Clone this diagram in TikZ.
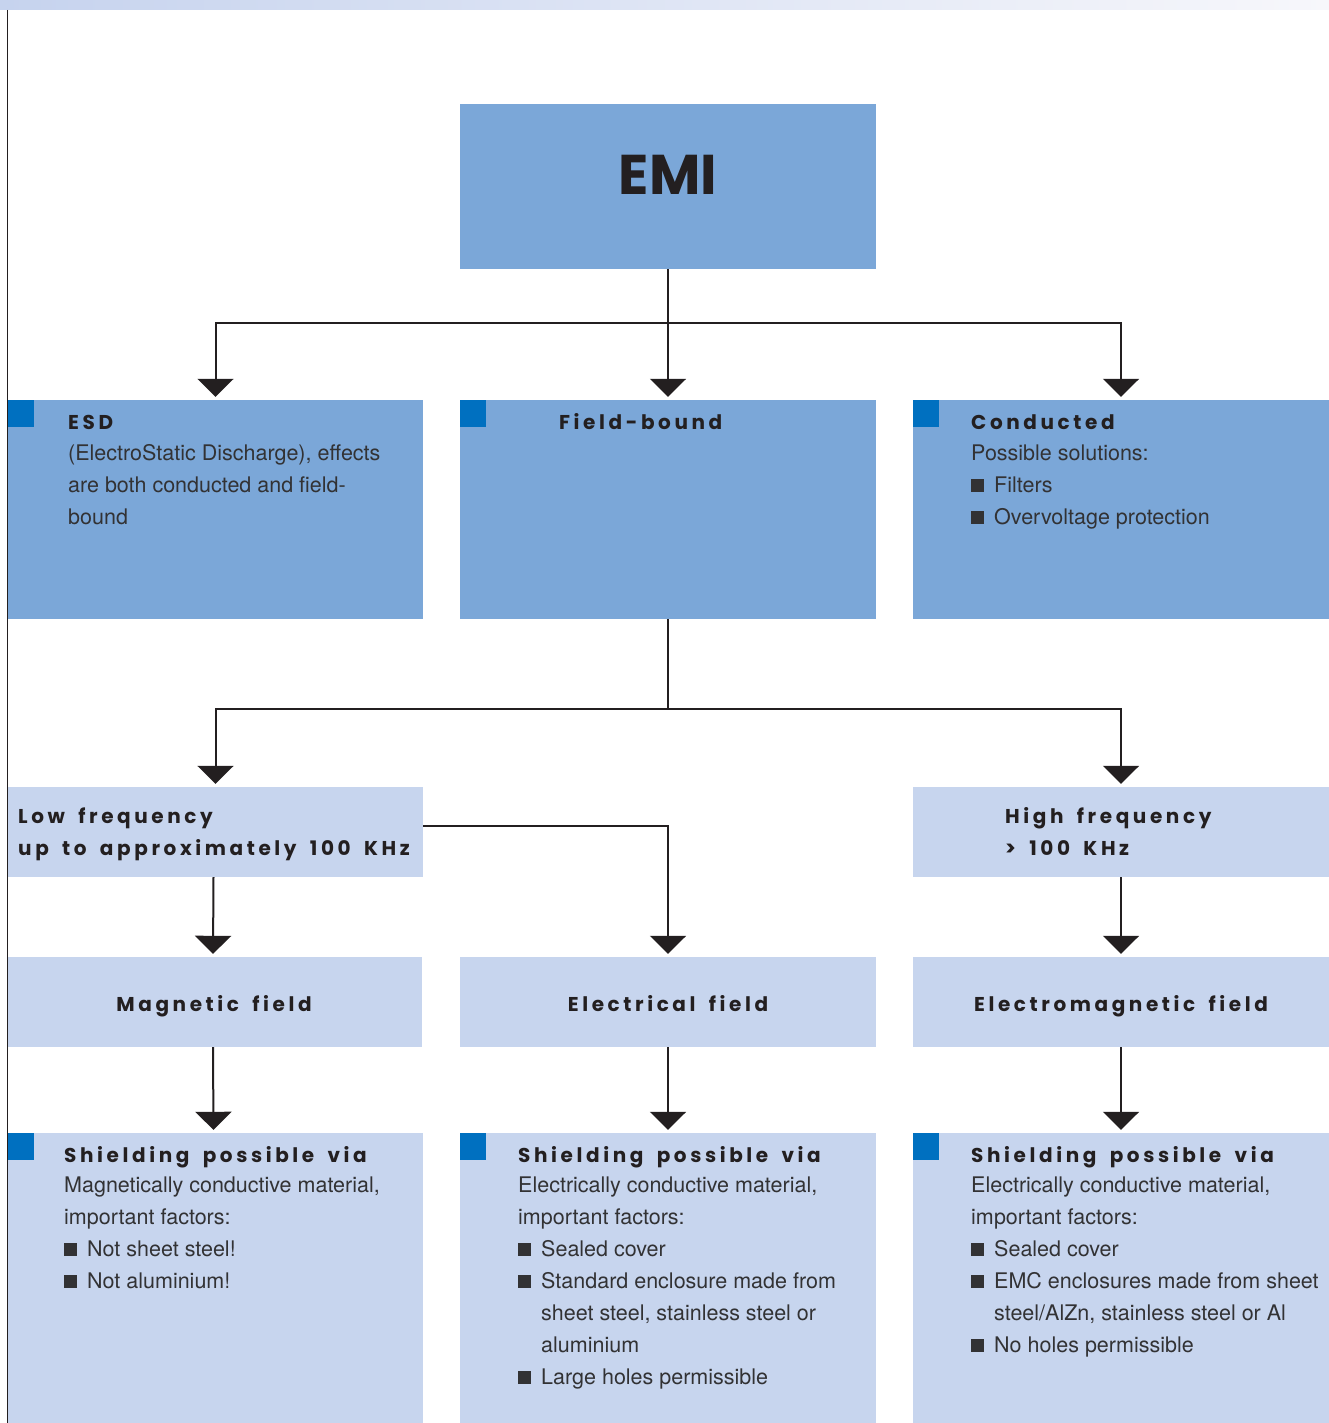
\documentclass[tikz,border=0pt]{standalone}
\usepackage{fontspec}
\usetikzlibrary{arrows.meta,calc}
\setmainfont{TeX Gyre Heros}
\newfontfamily\headfont{Poppins}[LetterSpace=18,WordSpace=1.7]
\newfontfamily\emifont{Poppins}
\definecolor{boxdark}{RGB}{123,167,216}
\definecolor{boxlight}{RGB}{199,213,238}
\definecolor{sqblue}{RGB}{0,112,192}
\definecolor{ink}{RGB}{35,31,32}
\definecolor{bodyink}{RGB}{50,50,52}
\definecolor{barL}{RGB}{198,211,238}
\definecolor{barR}{RGB}{247,247,251}
\newcommand\blt{\makebox[23pt][l]{\rule{13pt}{13pt}}}
\newcommand\ind{\hspace*{23pt}}
\newcommand\BodyLines[4]{%
  \foreach \t [count=\i] in {#4} {
    \node[txt] (#1-\i) at (#2,{#3+32*(\i-1)}) {\t};
  }}
\tikzset{
  x=1pt,y=-1pt,
  darkbox/.style={fill=boxdark,draw=none},
  lightbox/.style={fill=boxlight,draw=none},
  sq/.style={fill=sqblue,draw=none},
  txt/.style={anchor=base west,inner sep=0,font=\fontsize{21.5}{32}\selectfont,text=bodyink},
  head/.style={anchor=base west,inner sep=0,font=\fontsize{20}{32}\headfont\bfseries,text=ink},
  headc/.style={head,anchor=base},
  conn/.style={draw=ink,line width=2pt},
  arr/.style={conn,-{Triangle[width=36pt,length=18pt]},shorten >=3pt},
}
\begin{document}
\begin{tikzpicture}
\useasboundingbox (0,0) rectangle (1329,1423);
\fill[white] (0,0) rectangle (1329,1423);
% top bar and left rule
\shade[left color=barL,right color=barR] (0,0) rectangle (1329,10);
\draw[ink,line width=1.5pt] (7.25,10) -- (7.25,1423);
% boxes
\node[darkbox,minimum width=416pt,minimum height=165pt,inner sep=0] (emi) at (668,186.5) {};
\node[anchor=base,inner sep=0,font=\fontsize{56}{60}\emifont\bfseries,text=ink] (emitxt) at (668,195) {EMI};

\node[darkbox,minimum width=415pt,minimum height=219pt,inner sep=0] (esd) at (215.5,509.5) {};
\node[darkbox,minimum width=416pt,minimum height=219pt,inner sep=0] (field) at (668,509.5) {};
\node[darkbox,minimum width=416pt,minimum height=219pt,inner sep=0] (cond) at (1121,509.5) {};

\node[lightbox,minimum width=415pt,minimum height=90pt,inner sep=0] (lowf) at (215.5,832) {};
\node[lightbox,minimum width=416pt,minimum height=90pt,inner sep=0] (highf) at (1121,832) {};

\node[lightbox,minimum width=414pt,minimum height=90pt,inner sep=0] (magf) at (215,1002) {};
\node[lightbox,minimum width=416pt,minimum height=90pt,inner sep=0] (elecf) at (668,1002) {};
\node[lightbox,minimum width=416pt,minimum height=90pt,inner sep=0] (emf) at (1121,1002) {};

\node[lightbox,minimum width=415pt,minimum height=290pt,inner sep=0] (sh1) at (215.5,1278) {};
\node[lightbox,minimum width=416pt,minimum height=290pt,inner sep=0] (sh2) at (668,1278) {};
\node[lightbox,minimum width=416pt,minimum height=290pt,inner sep=0] (sh3) at (1121,1278) {};

% blue squares
\foreach \xx/\yy in {8/400,460/400,913/400,8/1133,460/1133,913/1133}
  \fill[sqblue] (\xx,\yy) rectangle ++(26,27);

% connectors
\coordinate (j1) at ($(emi.south)+(0,54)$);
\coordinate (j2) at ($(field.south)+(0,90)$);
\draw[conn] (emi.south) -- (j1);
\draw[arr] (j1) -| (esd.north);
\draw[arr] (j1) -- (field.north);
\draw[arr] (j1) -| (cond.north);
\draw[conn] (field.south) -- (j2);
\draw[arr] (j2) -| (lowf.north);
\draw[arr] (j2) -| (highf.north);
\draw[arr] ([yshift=6pt]lowf.east) -| (elecf.north);
\draw[arr] ([xshift=-2pt]lowf.south) -- ([xshift=-2pt]magf.north);
\draw[arr] (highf.south) -- (emf.north);
\draw[arr] ([xshift=-2pt]magf.south) -- ([xshift=-2pt]sh1.north);
\draw[arr] (elecf.south) -- (sh2.north);
\draw[arr] (emf.south) -- (sh3.north);

% headings
\node[head] (h-esd) at (68,429) {ESD};
\node[head] (h-field) at (559,429) {Field-bound};
\node[head] (h-cond) at (971,429) {Conducted};
\node[head] (h-low1) at (18,823) {Low frequency};
\node[head] (h-low2) at (18,855) {up to approximately 100 KHz};
\node[head] (h-high1) at (1005,823) {High frequency};
\node[head] (h-high2) at (1005,855) {> 100 KHz};
\node[headc] (h-mag) at (214,1011) {Magnetic field};
\node[headc] (h-elec) at (668,1011) {Electrical field};
\node[headc] (h-em) at (1121,1011) {Electromagnetic field};
\node[head] (h-sh1) at (64,1162) {Shielding possible via};
\node[head] (h-sh2) at (518,1162) {Shielding possible via};
\node[head] (h-sh3) at (971,1162) {Shielding possible via};

% body texts
\BodyLines{esdt}{68}{460}{{(ElectroStatic Discharge), effects},are both conducted and field-,bound}
\BodyLines{condt}{971}{460}{Possible solutions:,\blt Filters,\blt Overvoltage protection}
\BodyLines{sh1t}{64}{1192}{{Magnetically conductive material,},important factors:,\blt Not sheet steel!,\blt Not aluminium!}
\BodyLines{sh2t}{518}{1192}{{Electrically conductive material,},important factors:,\blt Sealed cover,\blt Standard enclosure made from,{\ind sheet steel, stainless steel or},\ind aluminium,\blt Large holes permissible}
\BodyLines{sh3t}{971}{1192}{{Electrically conductive material,},important factors:,\blt Sealed cover,\blt EMC enclosures made from sheet,{\ind steel/AlZn, stainless steel or Al},\blt No holes permissible}
\end{tikzpicture}
\end{document}
